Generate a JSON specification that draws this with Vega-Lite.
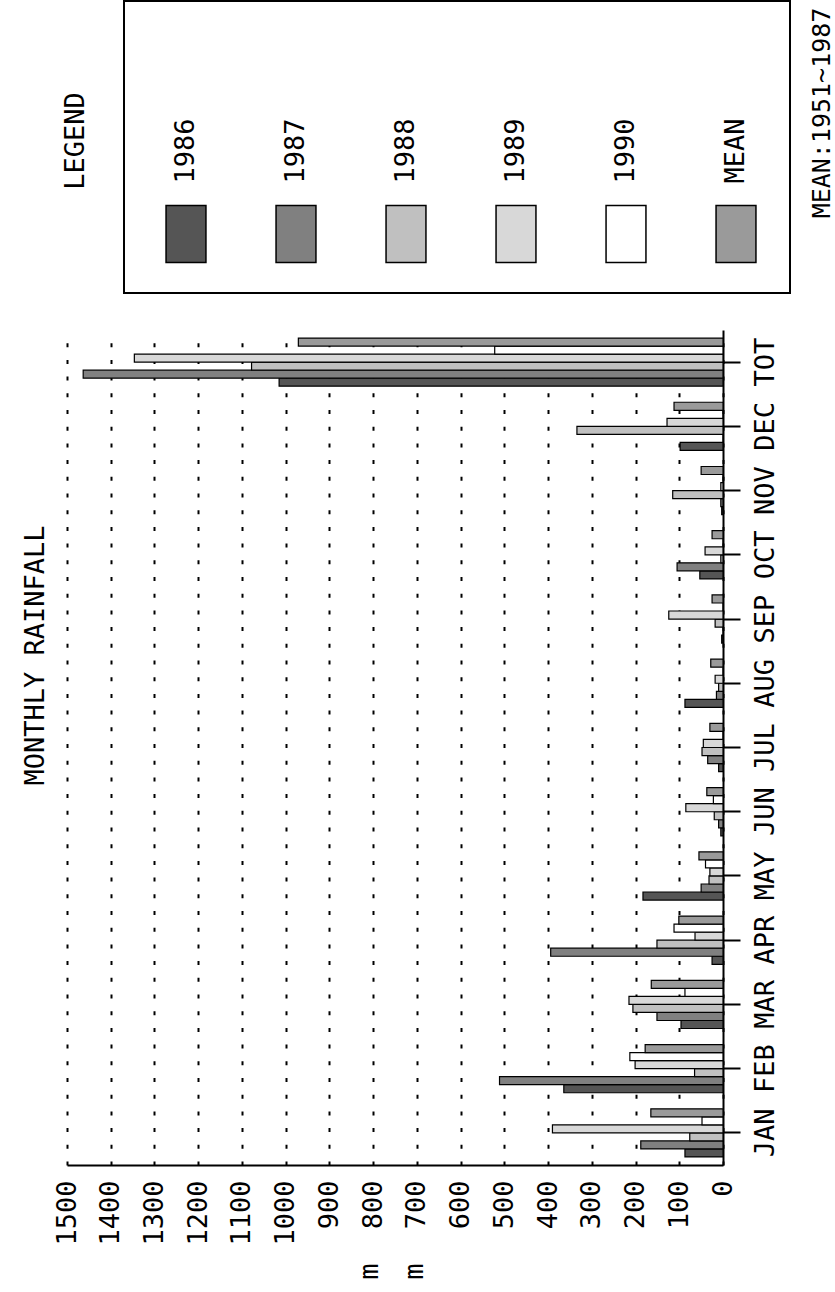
{
  "$schema": "https://vega.github.io/schema/vega-lite/v6.json",
  "background": "white",
  "padding": {"left": 21, "top": 0, "right": 0, "bottom": 0},
  "spacing": 36,
  "config": {"view": {"stroke": null}},
  "vconcat": [
    {
      "width": 678,
      "height": 292,
      "data": {"values": [
        {"series": "1986"}, {"series": "1987"}, {"series": "1988"},
        {"series": "1989"}, {"series": "1990"}, {"series": "MEAN"}
      ]},
      "layer": [
        {
          "data": {"values": [{"box": "legend"}]},
          "mark": {"type": "rect", "fillOpacity": 0, "stroke": "black", "strokeWidth": 2, "xOffset": 48, "x2Offset": 54},
          "encoding": {
            "x": {"datum": "LEGEND", "type": "nominal", "scale": {"type": "point", "domain": ["LEGEND", "1986", "1987", "1988", "1989", "1990", "MEAN"], "padding": 0.0818}, "axis": null},
            "x2": {"datum": "MEAN"}
          }
        },
        {
          "mark": {"type": "point", "filled": true, "shape": "M-0.7,-1H0.7V1H-0.7Z", "size": 3249, "stroke": "black", "strokeWidth": 1.5, "opacity": 1, "yOffset": 87},
          "encoding": {
            "x": {"field": "series", "type": "nominal", "axis": null},
            "fill": {"field": "series", "type": "nominal", "scale": {"domain": ["1986", "1987", "1988", "1989", "1990", "MEAN"], "range": ["#555555", "#808080", "#c0c0c0", "#d8d8d8", "#ffffff", "#9a9a9a"]}, "legend": null}
          }
        },
        {
          "mark": {"type": "text", "angle": 270, "align": "center", "baseline": "middle", "font": "DejaVu Sans Mono", "fontSize": 27, "color": "black", "yOffset": 4},
          "encoding": {
            "x": {"field": "series", "type": "nominal", "axis": null},
            "text": {"field": "series"}
          }
        },
        {
          "data": {"values": [{"label": "LEGEND"}]},
          "mark": {"type": "text", "angle": 270, "align": "center", "baseline": "middle", "font": "DejaVu Sans Mono", "fontSize": 27, "color": "black", "yOffset": -6},
          "encoding": {
            "x": {"datum": "LEGEND", "type": "nominal", "axis": null},
            "text": {"field": "label"}
          }
        },
        {
          "data": {"values": [{"label": "MEAN:1951~1987"}]},
          "mark": {"type": "text", "angle": 270, "align": "center", "baseline": "middle", "font": "DejaVu Sans Mono", "fontSize": 25, "color": "black", "xOffset": 86, "yOffset": -34},
          "encoding": {
            "x": {"datum": "MEAN", "type": "nominal", "axis": null},
            "text": {"field": "label"}
          }
        }
      ]
    },
    {
      "width": 656,
      "height": 835,
      "title": {"text": "MONTHLY RAINFALL", "orient": "left", "anchor": "middle", "font": "DejaVu Sans Mono", "fontSize": 27, "fontWeight": "normal", "color": "black", "offset": 3, "dx": 92},
      "data": {"values": [
        {"month": "JAN", "series": "1986", "mm": 87}, {"month": "JAN", "series": "1987", "mm": 188}, {"month": "JAN", "series": "1988", "mm": 76}, {"month": "JAN", "series": "1989", "mm": 390}, {"month": "JAN", "series": "1990", "mm": 48}, {"month": "JAN", "series": "MEAN", "mm": 165},
        {"month": "FEB", "series": "1986", "mm": 364}, {"month": "FEB", "series": "1987", "mm": 511}, {"month": "FEB", "series": "1988", "mm": 65}, {"month": "FEB", "series": "1989", "mm": 201}, {"month": "FEB", "series": "1990", "mm": 213}, {"month": "FEB", "series": "MEAN", "mm": 178},
        {"month": "MAR", "series": "1986", "mm": 96}, {"month": "MAR", "series": "1987", "mm": 151}, {"month": "MAR", "series": "1988", "mm": 206}, {"month": "MAR", "series": "1989", "mm": 215}, {"month": "MAR", "series": "1990", "mm": 87}, {"month": "MAR", "series": "MEAN", "mm": 164},
        {"month": "APR", "series": "1986", "mm": 25}, {"month": "APR", "series": "1987", "mm": 394}, {"month": "APR", "series": "1988", "mm": 151}, {"month": "APR", "series": "1989", "mm": 64}, {"month": "APR", "series": "1990", "mm": 112}, {"month": "APR", "series": "MEAN", "mm": 101},
        {"month": "MAY", "series": "1986", "mm": 183}, {"month": "MAY", "series": "1987", "mm": 50}, {"month": "MAY", "series": "1988", "mm": 32}, {"month": "MAY", "series": "1989", "mm": 30}, {"month": "MAY", "series": "1990", "mm": 40}, {"month": "MAY", "series": "MEAN", "mm": 55},
        {"month": "JUN", "series": "1986", "mm": 5}, {"month": "JUN", "series": "1987", "mm": 10}, {"month": "JUN", "series": "1988", "mm": 20}, {"month": "JUN", "series": "1989", "mm": 85}, {"month": "JUN", "series": "1990", "mm": 22}, {"month": "JUN", "series": "MEAN", "mm": 37},
        {"month": "JUL", "series": "1986", "mm": 10}, {"month": "JUL", "series": "1987", "mm": 35}, {"month": "JUL", "series": "1988", "mm": 48}, {"month": "JUL", "series": "1989", "mm": 45}, {"month": "JUL", "series": "1990", "mm": 0}, {"month": "JUL", "series": "MEAN", "mm": 30},
        {"month": "AUG", "series": "1986", "mm": 87}, {"month": "AUG", "series": "1987", "mm": 15}, {"month": "AUG", "series": "1988", "mm": 10}, {"month": "AUG", "series": "1989", "mm": 18}, {"month": "AUG", "series": "1990", "mm": 0}, {"month": "AUG", "series": "MEAN", "mm": 28},
        {"month": "SEP", "series": "1986", "mm": 3}, {"month": "SEP", "series": "1987", "mm": 0}, {"month": "SEP", "series": "1988", "mm": 18}, {"month": "SEP", "series": "1989", "mm": 124}, {"month": "SEP", "series": "1990", "mm": 0}, {"month": "SEP", "series": "MEAN", "mm": 25},
        {"month": "OCT", "series": "1986", "mm": 53}, {"month": "OCT", "series": "1987", "mm": 105}, {"month": "OCT", "series": "1988", "mm": 5}, {"month": "OCT", "series": "1989", "mm": 41}, {"month": "OCT", "series": "1990", "mm": 0}, {"month": "OCT", "series": "MEAN", "mm": 25},
        {"month": "NOV", "series": "1986", "mm": 3}, {"month": "NOV", "series": "1987", "mm": 5}, {"month": "NOV", "series": "1988", "mm": 115}, {"month": "NOV", "series": "1989", "mm": 5}, {"month": "NOV", "series": "1990", "mm": 0}, {"month": "NOV", "series": "MEAN", "mm": 50},
        {"month": "DEC", "series": "1986", "mm": 98}, {"month": "DEC", "series": "1987", "mm": 0}, {"month": "DEC", "series": "1988", "mm": 334}, {"month": "DEC", "series": "1989", "mm": 128}, {"month": "DEC", "series": "1990", "mm": 0}, {"month": "DEC", "series": "MEAN", "mm": 112},
        {"month": "TOT", "series": "1986", "mm": 1015}, {"month": "TOT", "series": "1987", "mm": 1463}, {"month": "TOT", "series": "1988", "mm": 1078}, {"month": "TOT", "series": "1989", "mm": 1346}, {"month": "TOT", "series": "1990", "mm": 522}, {"month": "TOT", "series": "MEAN", "mm": 971}
      ]},
      "mark": {"type": "bar", "stroke": "black", "strokeWidth": 1.2},
      "encoding": {
        "y": {
          "field": "month", "type": "nominal",
          "sort": ["TOT", "DEC", "NOV", "OCT", "SEP", "AUG", "JUL", "JUN", "MAY", "APR", "MAR", "FEB", "JAN"],
          "scale": {"paddingInner": 0, "paddingOuter": 0},
          "axis": {"orient": "right", "title": null, "labelAngle": 270, "labelAlign": "center", "labelBaseline": "top", "labelPadding": 12, "tickSize": 17, "tickWidth": 2, "tickColor": "black", "domainColor": "black", "domainWidth": 2, "labelFont": "DejaVu Sans Mono", "labelFontSize": 27, "labelColor": "black", "grid": false}
        },
        "yOffset": {
          "field": "series", "type": "nominal",
          "sort": ["MEAN", "1990", "1989", "1988", "1987", "1986"],
          "scale": {"paddingInner": 0, "paddingOuter": 1}
        },
        "x": {
          "field": "mm", "type": "quantitative",
          "scale": {"domain": [0, 1500], "reverse": true, "nice": false},
          "axis": {
            "values": [0, 100, 200, 300, 400, 500, 600, 700, 800, 900, 1000, 1100, 1200, 1300, 1400, 1500],
            "format": "d",
            "labelAngle": 270, "labelAlign": "right", "labelBaseline": "middle", "labelPadding": 15,
            "labelFont": "DejaVu Sans Mono", "labelFontSize": 27, "labelColor": "black",
            "ticks": false,
            "domainColor": "black", "domainWidth": 2,
            "grid": true, "gridColor": "black", "gridDash": [4, 12.7], "gridWidth": 2, "gridOpacity": 1,
            "title": ["m", "m"], "titleAngle": 270, "titleAlign": "center", "titleBaseline": "middle",
            "titleLineHeight": 45, "titleX": 302, "titleFont": "DejaVu Sans Mono", "titleFontSize": 27, "titleFontWeight": "normal", "titleColor": "black", "titlePadding": 26
          }
        },
        "fill": {
          "field": "series", "type": "nominal",
          "scale": {"domain": ["1986", "1987", "1988", "1989", "1990", "MEAN"], "range": ["#555555", "#808080", "#c0c0c0", "#d8d8d8", "#ffffff", "#9a9a9a"]},
          "legend": null
        }
      }
    }
  ]
}
